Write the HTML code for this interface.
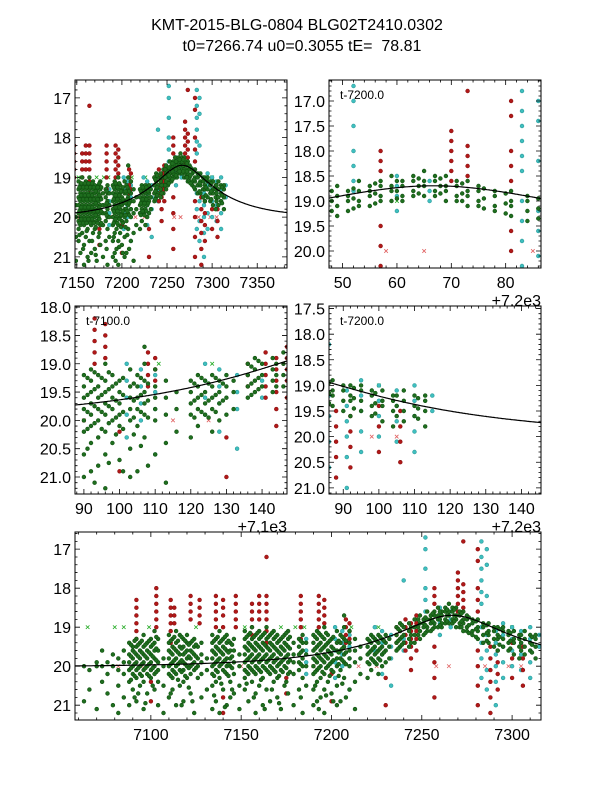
<!DOCTYPE html>
<html><head><meta charset="utf-8">
<style>
html,body{margin:0;padding:0;background:#fff;}
svg{display:block;font-family:"Liberation Sans",sans-serif;}
</style></head>
<body>
<svg id="fig" width="600" height="800" viewBox="0 0 600 800" xmlns="http://www.w3.org/2000/svg">
<rect x="0" y="0" width="600" height="800" fill="#fff"/>
<text x="297" y="30" font-size="16" text-anchor="middle">KMT-2015-BLG-0804 BLG02T2410.0302</text>
<text x="302" y="51" font-size="16" text-anchor="middle" style="white-space:pre">t0=7266.74 u0=0.3055 tE=  78.81</text>
</svg>
<script>
// ---- data ----
const greenCols = [
[7063,20.0,20.9],[7066,20.1,20.6],[7070,19.9,20.0,21.1],[7073,20.0,19.6,20.4],[7076,19.9,20.2,20.7],[7079,20.0,19.7,21.0],
[7082,19.8,20.1,20.5,21.2],[7085,19.6,19.9,20.2,20.8],[7088,19.4,19.7,19.9,20.1,20.4,21.0],[7090,19.5,19.6,19.8,20.0,20.2,20.6],
[7092,19.3,19.5,19.7,19.9,20.1,20.3,20.9],[7094,19.4,19.6,19.8,20.0,20.2,20.5],[7096,19.2,19.5,19.7,19.9,20.1,20.4,21.1],
[7098,19.4,19.6,19.8,20.0,20.2,20.7],[7100,19.3,19.5,19.7,19.9,20.1,20.3],[7102,19.1,19.4,19.6,19.8,20.0,20.2,20.6],
[7104,19.3,19.6,19.9,20.1,20.4,21.0],[7107,19.8,20.0,20.5,21.2],[7110,19.2,19.4,19.6,19.8,20.0,20.2,20.8],
[7112,19.3,19.5,19.7,19.9,20.1,20.3,20.6],[7114,19.1,19.4,19.6,19.8,20.0,20.2,21.0],[7116,19.2,19.5,19.7,19.9,20.1,20.5],
[7118,19.3,19.5,19.7,19.9,20.1,20.4,20.9],[7120,19.2,19.4,19.6,19.8,20.0,20.3],[7122,19.4,19.6,19.8,20.0,20.2,20.7],
[7124,19.3,19.5,19.7,19.9,20.1,21.2],[7126,19.5,19.8,20.0,20.3],[7128,19.4,19.7,19.9,20.2,20.8],[7131,19.8,20.1,20.6],
[7134,19.2,19.4,19.6,19.8,20.0,20.2,20.5,21.1],[7136,19.3,19.5,19.7,19.9,20.1,20.4,20.9],[7138,19.1,19.4,19.6,19.8,20.0,20.3,21.2],
[7140,19.3,19.5,19.7,19.9,20.1,20.6],[7142,19.2,19.4,19.6,19.8,20.0,20.2,21.0],[7144,19.4,19.6,19.8,20.0,20.4,20.8],
[7146,19.3,19.6,19.9,20.2,20.7],[7149,19.7,20.0,20.5,21.1],[7152,19.1,19.3,19.5,19.7,19.9,20.1,20.3,20.6],
[7154,19.2,19.4,19.6,19.8,20.0,20.2,20.9],[7156,19.0,19.3,19.5,19.7,19.9,20.1,20.4],[7158,19.2,19.4,19.6,19.8,20.0,20.2,20.7,21.2],
[7160,19.1,19.3,19.5,19.7,19.9,20.1,20.5],[7162,19.2,19.4,19.6,19.8,20.0,20.3,21.0],[7164,19.0,19.3,19.5,19.7,19.9,20.1,20.6],
[7166,19.2,19.4,19.6,19.8,20.0,20.2,20.9],[7168,19.1,19.3,19.5,19.7,19.9,20.1,20.4],[7170,19.2,19.4,19.6,19.8,20.0,20.3,20.8],
[7172,19.3,19.5,19.7,19.9,20.1,21.1],[7174,19.2,19.4,19.6,19.8,20.0,20.5],[7176,19.1,19.3,19.5,19.7,19.9,20.2,20.7],
[7179,19.4,19.7,19.9,20.2,21.0],[7182,19.3,19.5,19.7,19.9,20.1,20.6],[7184,19.2,19.4,19.6,19.8,20.0,20.3,21.2],
[7186,19.4,19.7,20.0,20.5],[7190,19.2,19.4,19.6,19.8,20.0,20.2,20.6,21.0],[7192,19.1,19.3,19.5,19.7,19.9,20.1,20.4,20.9],
[7194,19.2,19.4,19.6,19.8,20.0,20.3,20.8],[7196,19.0,19.3,19.5,19.7,19.9,20.2,20.6,21.2],[7198,19.2,19.4,19.6,19.8,20.0,20.4],
[7200,19.3,19.5,19.7,19.9,20.1,20.7],[7203,19.1,19.4,19.6,19.8,20.0,20.5,21.0],[7205,19.2,19.4,19.6,19.8,20.1,20.9],
[7207,18.7,19.0,19.3,19.5,19.7,19.9,20.3],[7210,19.1,19.4,19.6,19.8,20.0,20.6],[7213,19.3,19.6,19.9,20.4,21.1],
[7216,19.5,19.8,20.2],[7220,19.3,19.5,19.7,19.9,20.3],[7222,19.2,19.4,19.6,19.8,20.1],[7224,19.3,19.5,19.7,19.9],
[7226,19.2,19.4,19.6,19.8,20.2],[7228,19.3,19.5,19.7,20.0],[7230,19.2,19.4,19.6,19.9],[7232,19.3,19.5,19.8],
[7236,19.0,19.2,19.4,19.6],[7238,18.9,19.1,19.3,19.5],[7240,19.0,19.2,19.4],[7243,18.9,19.1,19.3,19.5],
[7246,18.8,19.0,19.2,19.4],[7249,18.7,18.9,19.1,19.3],[7251,18.8,18.9,19.0,19.2],[7253,18.6,18.8,19.0,19.1],
[7255,18.7,18.8,18.9,19.1],[7257,18.6,18.7,18.9,19.0],[7259,18.5,18.7,18.8,19.0],[7261,18.6,18.7,18.9,19.0],
[7263,18.5,18.6,18.8,18.9],[7265,18.4,18.6,18.7,18.9],[7267,18.5,18.6,18.8,18.9],[7269,18.5,18.7,18.8,19.0],
[7271,18.6,18.7,18.9,19.0],[7273,18.6,18.8,18.9,19.1],[7275,18.7,18.8,19.0,19.1],[7278,18.8,18.9,19.1,19.2],
[7281,18.8,19.0,19.1,19.3],[7284,18.9,19.0,19.2,19.4],[7287,18.9,19.1,19.2,19.4],[7290,19.0,19.1,19.3,19.5],
[7292,19.0,19.2,19.3,19.6],[7295,19.0,19.1,19.3,19.5],[7298,19.1,19.2,19.4,19.6],[7301,19.1,19.3,19.4,19.7],
[7304,19.2,19.3,19.5,19.8],[7307,19.1,19.3,19.5,19.7],[7310,19.2,19.4,19.6],[7313,19.2,19.3,19.5,19.8]
];
const greenCols2 = [
[7089,19.45,19.75,20.05,20.35],[7091,19.35,19.65,19.95,20.25,20.8],[7093,19.45,19.75,20.05,20.7],[7095,19.35,19.65,19.95,20.25],
[7097,19.45,19.75,20.05,20.95],[7099,19.35,19.65,19.95,20.25],[7101,19.45,19.75,20.05,20.5],[7103,19.25,19.55,19.85,20.15],
[7111,19.35,19.65,19.95,20.25,20.7],[7113,19.25,19.55,19.85,20.15],[7115,19.35,19.65,19.95,20.35],[7117,19.25,19.55,19.85,20.15,21.0],
[7119,19.35,19.65,19.95,20.25],[7121,19.45,19.75,20.05,20.55],[7123,19.35,19.65,19.95,20.9],[7125,19.45,19.75,20.05],
[7135,19.35,19.65,19.95,20.25,20.75],[7137,19.25,19.55,19.85,20.15],[7139,19.35,19.65,19.95,20.45],[7141,19.25,19.55,19.85,20.15,21.05],
[7143,19.35,19.65,19.95,20.25],[7145,19.45,19.75,20.05,20.6],[7153,19.25,19.55,19.85,20.15,20.45],[7155,19.15,19.45,19.75,20.05],
[7157,19.25,19.55,19.85,20.15,20.8],[7159,19.15,19.45,19.75,20.05],[7161,19.25,19.55,19.85,20.15,20.35],[7163,19.15,19.45,19.75,20.05,21.1],
[7165,19.25,19.55,19.85,20.15],[7167,19.15,19.45,19.75,20.05,20.6],[7169,19.25,19.55,19.85,20.15],[7171,19.35,19.65,19.95,20.25,20.95],
[7173,19.25,19.55,19.85,20.15],[7175,19.15,19.45,19.75,20.05,20.4],[7177,19.25,19.55,19.85,20.15],[7183,19.35,19.65,19.95,20.8],
[7191,19.25,19.55,19.85,20.15,20.5],[7193,19.15,19.45,19.75,20.05,21.1],[7195,19.25,19.55,19.85,20.15],[7197,19.15,19.45,19.75,20.05,20.75],
[7199,19.35,19.65,19.95,20.25],[7201,19.25,19.55,19.85,20.15,20.9],[7204,19.35,19.65,19.95,20.25],[7206,19.25,19.55,19.85,20.45],
[7208,19.35,19.65,19.95,20.8],[7221,19.35,19.65,19.95],[7223,19.25,19.55,19.85],[7225,19.35,19.65,19.95],[7227,19.25,19.55,19.85],
[7229,19.35,19.65],[7237,19.05,19.35,19.55],[7239,18.95,19.25,19.45],[7244,19.0,19.2,19.4],[7248,18.8,19.0,19.2],
[7252,18.75,18.95,19.15],[7256,18.65,18.85,19.05],[7260,18.6,18.8,18.95],[7264,18.55,18.7,18.85],[7268,18.55,18.7,18.85],
[7272,18.65,18.85,19.0],[7276,18.75,18.95,19.15],[7280,18.85,19.05,19.25],[7286,18.95,19.15,19.35],[7293,19.05,19.25,19.45],
[7299,19.15,19.35,19.55],[7305,19.2,19.4,19.6],[7311,19.25,19.45,19.65]
];
const redCols = [
[7092,18.3,18.5,18.7,18.9,19.1,19.3],[7100,20.4,20.9],[7103,18.0,18.2,18.4,18.6,18.8,19.0],[7111,18.3,18.5,18.7,18.9,19.1,19.4],
[7113,18.5,18.7,18.9],[7122,18.2,18.4,18.6,18.8],[7127,18.3,18.5,18.7,18.9],[7136,18.2,18.4,18.6,18.8,19.0,19.3],
[7140,18.3,18.5,18.7,19.0,20.8,21.2],[7147,18.2,18.4,18.6,18.8,19.0],[7156,18.4,18.6,18.8,19.0,19.2],[7160,18.2,18.4,18.6,18.8],
[7164,17.2,18.2,18.4,18.6,18.8,19.1,19.4],[7175,20.3,20.7],[7183,18.2,18.4,18.6,18.8,19.0,19.3],[7193,18.2,18.4,18.6,18.8,19.0],
[7196,18.3,18.5,18.7,18.9],[7200,20.2,20.9],[7208,18.8,19.0,19.2,19.4],[7210,18.9,19.1,19.3],[7230,20.3,21.0],
[7236,19.0,19.2,19.4],[7241,18.8,19.0,19.2,19.4,19.6],[7244,18.9,19.1,19.3,19.5,19.8,20.1],[7247,18.7,18.9,19.1,19.3,19.6],
[7257,18.0,18.2,18.4,19.5,19.9,20.3,20.8],[7270,17.6,17.8,18.0,18.2,18.4,18.6],[7273,16.8,17.9,18.1,18.3,18.5],
[7281,17.0,17.3,18.0,18.3,18.6,19.6,20.0,20.5,21.0],[7288,19.5,19.8,20.1,20.4,20.8,21.2],[7292,19.6,19.9,20.2,20.6],
[7300,19.4,19.8,20.3],[7306,19.5,19.8,20.1,20.5]
];
const cyanCols = [
[7186,19.3,19.6,19.9,20.2],[7202,19.0,19.3,19.6,19.9,20.3],[7206,19.1,19.4,19.7,20.0],[7210,19.2,19.5,19.8,20.6],
[7224,19.0,19.3,19.6,19.9],[7228,19.1,19.4,19.7,20.2],[7233,19.2,19.5,19.8,20.5],[7240,17.8,19.3,19.6],
[7252,16.7,17.0,17.5,18.0,18.3,18.6,18.8],[7260,18.5,18.7,18.9,19.2],[7266,18.6,18.8,19.0],
[7283,16.8,17.2,17.5,17.8,18.1,18.4,19.0,19.4,19.8,20.3],[7286,17.0,17.4,18.2,19.2,19.6,20.1,20.6],
[7291,19.1,19.4,19.7,20.0,20.4,21.0],[7295,18.9,19.2,19.5,19.9,20.3],[7300,19.0,19.3,19.6,20.0],
[7305,19.1,19.4,19.7,20.1],[7310,19.0,19.3,19.6,19.9,20.3],[7315,19.2,19.5]
];
const greenLimitTimes = [7065,7080,7085,7099,7125,7152,7172,7180,7185,7211,7226,7260,7300];
const greenLimitMag = 19.0;
const redLimitTimes = [7082,7095,7150,7190,7215,7225,7258,7265,7285,7298,7305];
const redLimitMag = 20.0;
const t0 = 7266.74, u0 = 0.3055, tE = 78.81, mBase = 20.02;

// ---- panels ----
const panels = [
 {name:'panel-full-top-left', x:75,y:80,w:212,h:188, xmin:7148,xmax:7383, ymin:16.55,ymax:21.28, off:0, xt:[7150,7200,7250,7300,7350], yt:[17,18,19,20,21], yfmt:0},
 {name:'panel-peak-zoom', x:329,y:80,w:212,h:188, xmin:7247.5,xmax:7286.5, ymin:16.58,ymax:20.34, off:7200, xt:[50,60,70,80], yt:[17,17.5,18,18.5,19,19.5,20], yfmt:1, label:'t-7200.0', offtxt:'+7.2e3'},
 {name:'panel-t7100-zoom', x:75,y:306,w:212,h:188, xmin:7187.5,xmax:7247, ymin:17.98,ymax:21.3, off:7100, xt:[90,100,110,120,130,140], yt:[18,18.5,19,19.5,20,20.5,21], yfmt:1, label:'t-7100.0', offtxt:'+7.1e3'},
 {name:'panel-t7200-zoom', x:329,y:306,w:212,h:188, xmin:7286,xmax:7345.5, ymin:17.45,ymax:21.12, off:7200, xt:[90,100,110,120,130,140], yt:[17.5,18,18.5,19,19.5,20,20.5,21], yfmt:1, label:'t-7200.0', offtxt:'+7.2e3'},
 {name:'panel-full-bottom', x:75,y:532,w:466,h:188, xmin:7058,xmax:7316, ymin:16.56,ymax:21.38, off:0, xt:[7100,7150,7200,7250,7300], yt:[17,18,19,20,21], yfmt:0}
];
const NS='http://www.w3.org/2000/svg';
const svg=document.getElementById('fig');
function mk(tag,attrs,parent){const e=document.createElementNS(NS,tag);for(const k in attrs)e.setAttribute(k,attrs[k]);(parent||svg).appendChild(e);return e;}
function model(t){const tau=(t-t0)/tE;const u=Math.sqrt(u0*u0+tau*tau);const A=(u*u+2)/(u*Math.sqrt(u*u+4));return mBase-2.5*Math.log10(A);}

panels.forEach((p,pi)=>{
  const sx=t=>p.x+(t-p.xmin)/(p.xmax-p.xmin)*p.w;
  const sy=m=>p.y+(m-p.ymin)/(p.ymax-p.ymin)*p.h;
  const g=mk('g',{});
  
  
  const cp=mk('clipPath',{id:'cp'+pi},g);
  mk('rect',{x:p.x,y:p.y,width:p.w,height:p.h},cp);
  const pts=mk('g',{'clip-path':'url(#cp'+pi+')'},g);
  
  
  function drawCols(cols,fill,stroke,nm){
    cols.forEach(c=>{for(let i=1;i<c.length;i++){
      const e=mk('circle',{cx:sx(c[0]).toFixed(1),cy:sy(c[i]).toFixed(1),r:1.9,fill:fill,stroke:stroke,'stroke-width':0.6},pts);
      
      
    }});
  }
  function drawX(times,mag,col,nm){
    times.forEach(t=>{const cx=sx(t),cy=sy(mag);
      const e=mk('path',{d:`M${cx-1.8},${cy-1.8}L${cx+1.8},${cy+1.8}M${cx-1.8},${cy+1.8}L${cx+1.8},${cy-1.8}`,stroke:col,'stroke-width':0.8,fill:'none'},pts);
      
      
    });
  }
  drawX(redLimitTimes,redLimitMag,'#e06060','red-limit-marker');
  drawX(greenLimitTimes,greenLimitMag,'#22aa22','green-limit-marker');
  drawCols(cyanCols,'#3fbfbf','#2a9a9a','cyan-point');
  drawCols(redCols,'#b01818','#8a1010','red-point');
  drawCols(greenCols,'#1f6e1f','#0f4f0f','green-point');
  drawCols(greenCols2,'#1f6e1f','#0f4f0f','green-point');
  // model curve
  let d='';const N=200;
  for(let i=0;i<=N;i++){const t=p.xmin+(p.xmax-p.xmin)*i/N;d+=(i?'L':'M')+sx(t).toFixed(1)+','+sy(model(t)).toFixed(1);}
  const cv=mk('path',{d:d,fill:'none',stroke:'#000','stroke-width':1.2},pts);
  
  
  // frame
  mk('rect',{x:p.x,y:p.y,width:p.w,height:p.h,fill:'none',stroke:'#000','stroke-width':1},g);
  // ticks
  const xs=p.xt[1]-p.xt[0], ys=p.yt[1]-p.yt[0];
  for(let v=p.xt[0]-xs;v<=p.xt[p.xt.length-1]+xs;v+=xs/5){
    const t=v+p.off; if(t<p.xmin||t>p.xmax)continue;
    const maj=Math.abs(((v-p.xt[0])/xs)-Math.round((v-p.xt[0])/xs))<1e-6;const L=maj?5:2.5;const x=sx(t);
    mk('path',{d:`M${x},${p.y+p.h}v${-L}M${x},${p.y}v${L}`,stroke:'#000','stroke-width':0.8},g);
  }
  for(let v=p.yt[0]-ys;v<=p.yt[p.yt.length-1]+ys;v+=ys/5){
    if(v<p.ymin||v>p.ymax)continue;
    const maj=Math.abs(((v-p.yt[0])/ys)-Math.round((v-p.yt[0])/ys))<1e-6;const L=maj?5:2.5;const y=sy(v);
    mk('path',{d:`M${p.x},${y}h${L}M${p.x+p.w},${y}h${-L}`,stroke:'#000','stroke-width':0.8},g);
  }
  p.xt.forEach(v=>{const e=mk('text',{x:sx(v+p.off),y:p.y+p.h+20,'font-size':16,'text-anchor':'middle'},g);e.textContent=v;
    
    });
  p.yt.forEach(v=>{const e=mk('text',{x:p.x-4,y:sy(v)+6,'font-size':16,'text-anchor':'end'},g);e.textContent=p.yfmt?v.toFixed(1):v;
    
    });
  if(p.label){const e=mk('text',{x:p.x+11,y:p.y+19,'font-size':12},g);e.textContent=p.label;
    
    }
  if(p.offtxt){const e=mk('text',{x:p.x+p.w,y:p.y+p.h+38,'font-size':16,'text-anchor':'end'},g);e.textContent=p.offtxt;
    
    }
});
const last=svg.lastChild;svg.appendChild(last);
</script>
</body></html>
